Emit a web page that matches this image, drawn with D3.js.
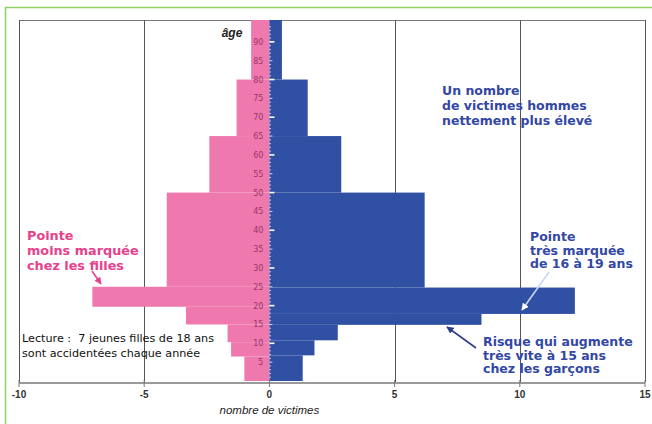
<!DOCTYPE html>
<html><head><meta charset="utf-8">
<script src="https://cdn.jsdelivr.net/npm/d3@7"></script>
<style>html,body{margin:0;padding:0;background:#fff;}svg{display:block;}</style>
</head><body>
<svg id="c" width="652" height="424"></svg>
<script>
// ---- data ----
const femaleAgeFrom = [0, 6.5, 10.3, 15, 19.7, 25, 50, 65, 80];
const femaleAgeTo   = [6.5, 10.3, 15, 19.7, 25, 50, 65, 80, 95.8];
const femaleValues  = [-1.0, -1.53, -1.67, -3.33, -7.07, -4.1, -2.4, -1.31, -0.73];
const maleAgeFrom   = [0, 6.8, 10.8, 14.9, 17.8, 24.8, 50, 65, 80];
const maleAgeTo     = [6.8, 10.8, 14.9, 17.8, 24.8, 50, 65, 80, 95.8];
const maleValues    = [1.33, 1.8, 2.73, 8.47, 12.2, 6.2, 2.87, 1.53, 0.5];
const xTicks = [-10, -5, 0, 5, 10, 15];
const gridValues = [-5, 5, 10];
const ageTicks = d3.range(5, 95, 5);

const svg = d3.select("#c");
const x = d3.scaleLinear().domain([-10, 15]).range([19, 645]);
const y = d3.scaleLinear().domain([0, 95.8]).range([381, 20]);

// green outer frame
svg.append("path").attr("d", "M5.5,424 L5.5,7.5 L652,7.5")
  .attr("fill", "none").attr("stroke", "#93d064").attr("stroke-width", 1.5);

// plot frame
svg.append("line").attr("x1", x(-10)).attr("x2", x(15)).attr("y1", 20.5).attr("y2", 20.5)
  .attr("stroke", "#777").attr("stroke-width", 1);
[-10, 15].concat(gridValues).forEach(v => {
  svg.append("line").attr("x1", Math.round(x(v)) + 0.5).attr("x2", Math.round(x(v)) + 0.5)
    .attr("y1", 20).attr("y2", 382).attr("stroke", "#555").attr("stroke-width", 1);
});

// bars
const fem = femaleValues.map((v, i) => ({v, a0: femaleAgeFrom[i], a1: femaleAgeTo[i]}));
const mal = maleValues.map((v, i) => ({v, a0: maleAgeFrom[i], a1: maleAgeTo[i]}));
svg.append("g").selectAll("rect").data(fem).join("rect")
  .attr("x", d => x(d.v)).attr("width", d => x(0) - x(d.v))
  .attr("y", d => y(d.a1)).attr("height", d => y(d.a0) - y(d.a1))
  .attr("fill", "#ef79ae");
svg.append("g").selectAll("rect").data(mal).join("rect")
  .attr("x", x(0)).attr("width", d => x(d.v) - x(0))
  .attr("y", d => y(d.a1)).attr("height", d => y(d.a0) - y(d.a1))
  .attr("fill", "#3050a3");

// y axis ticks (white) and labels
const minor = d3.range(1, 95, 1);
svg.append("g").selectAll("line").data(minor).join("line")
  .attr("x1", x(0)).attr("x2", d => x(0) + (d % 10 === 0 ? 5 : (d % 5 === 0 ? 3 : 1.5)))
  .attr("y1", d => y(d)).attr("y2", d => y(d))
  .attr("stroke", "#fff").attr("stroke-width", d => d % 10 === 0 ? 1.6 : 0.8);
svg.append("g").selectAll("text").data(ageTicks).join("text")
  .attr("x", x(0) - 6).attr("y", d => y(d) + 3)
  .attr("text-anchor", "end").attr("font-family", "DejaVu Sans, sans-serif")
  .attr("font-size", 8).attr("fill", "#9a3568").text(d => d);
svg.append("text").attr("x", 232).attr("y", 37).attr("font-family", "Liberation Sans, Arial, sans-serif")
  .attr("font-size", 12).attr("font-style", "italic").attr("font-weight", "bold")
  .attr("fill", "#222").attr("text-anchor", "middle").text("âge");

// bottom axis
svg.append("line").attr("x1", x(-10)).attr("x2", x(15)).attr("y1", 383).attr("y2", 383)
  .attr("stroke", "#9a9a9a").attr("stroke-width", 2);
svg.append("g").selectAll("line").data(xTicks).join("line")
  .attr("x1", d => x(d)).attr("x2", d => x(d)).attr("y1", 380).attr("y2", 387)
  .attr("stroke", "#777").attr("stroke-width", 1);
svg.append("g").selectAll("text").data(xTicks).join("text")
  .attr("x", d => x(d)).attr("y", 398).attr("text-anchor", "middle")
  .attr("font-family", "Liberation Sans, Arial, sans-serif").attr("font-size", 10).attr("font-weight", "bold")
  .attr("fill", "#333").text(d => d);
svg.append("text").attr("x", x(0)).attr("y", 414).attr("text-anchor", "middle")
  .attr("font-family", "Liberation Sans, Arial, sans-serif").attr("font-size", 11.5).attr("font-style", "italic")
  .attr("fill", "#222").text("nombre de victimes");

// annotations
function block(lines, x0, y0, lh, color, size, weight) {
  const t = svg.append("text").attr("font-family", "DejaVu Sans, sans-serif")
    .attr("font-size", size).attr("font-weight", weight).attr("fill", color);
  lines.forEach((l, i) => t.append("tspan").attr("x", x0).attr("y", y0 + i * lh).text(l));
}
block(["Pointe", "moins marquée", "chez les filles"], 27, 240, 15, "#e8418c", 12.8, "bold");
block(["Un nombre", "de victimes hommes", "nettement plus élevé"], 442, 95, 15, "#3347a5", 12.5, "bold");
block(["Pointe", "très marquée", "de 16 à 19 ans"], 530, 241, 13.5, "#3347a5", 12.5, "bold");
block(["Risque qui augmente", "très vite à 15 ans", "chez les garçons"], 483, 346, 13.5, "#3347a5", 12.5, "bold");
block(["Lecture :\u00a0\u00a07 jeunes filles de 18 ans", "sont accidentées chaque année"], 22, 342, 15, "#111", 11.2, "normal");

// arrows
const defs = svg.append("defs");
function marker(id, color) {
  defs.append("marker").attr("id", id).attr("viewBox", "0 0 10 10").attr("refX", 9).attr("refY", 5)
    .attr("markerWidth", 4.5).attr("markerHeight", 4.5).attr("orient", "auto")
    .append("path").attr("d", "M0,0 L10,5 L0,10 Z").attr("fill", color);
}
marker("mp", "#e8418c"); marker("mw", "#ffffff"); marker("mb", "#2c3f8c");
svg.append("line").attr("x1", 92).attr("y1", 271).attr("x2", 101).attr("y2", 284)
  .attr("stroke", "#e8418c").attr("stroke-width", 1.6).attr("marker-end", "url(#mp)");
svg.append("line").attr("x1", 549).attr("y1", 272).attr("x2", 522).attr("y2", 310)
  .attr("stroke", "#c9d5f2").attr("stroke-width", 1.6).attr("marker-end", "url(#mw)");
svg.append("line").attr("x1", 476).attr("y1", 348).attr("x2", 447).attr("y2", 327)
  .attr("stroke", "#2c3f8c").attr("stroke-width", 1.6).attr("marker-end", "url(#mb)");
</script>
</body></html>
